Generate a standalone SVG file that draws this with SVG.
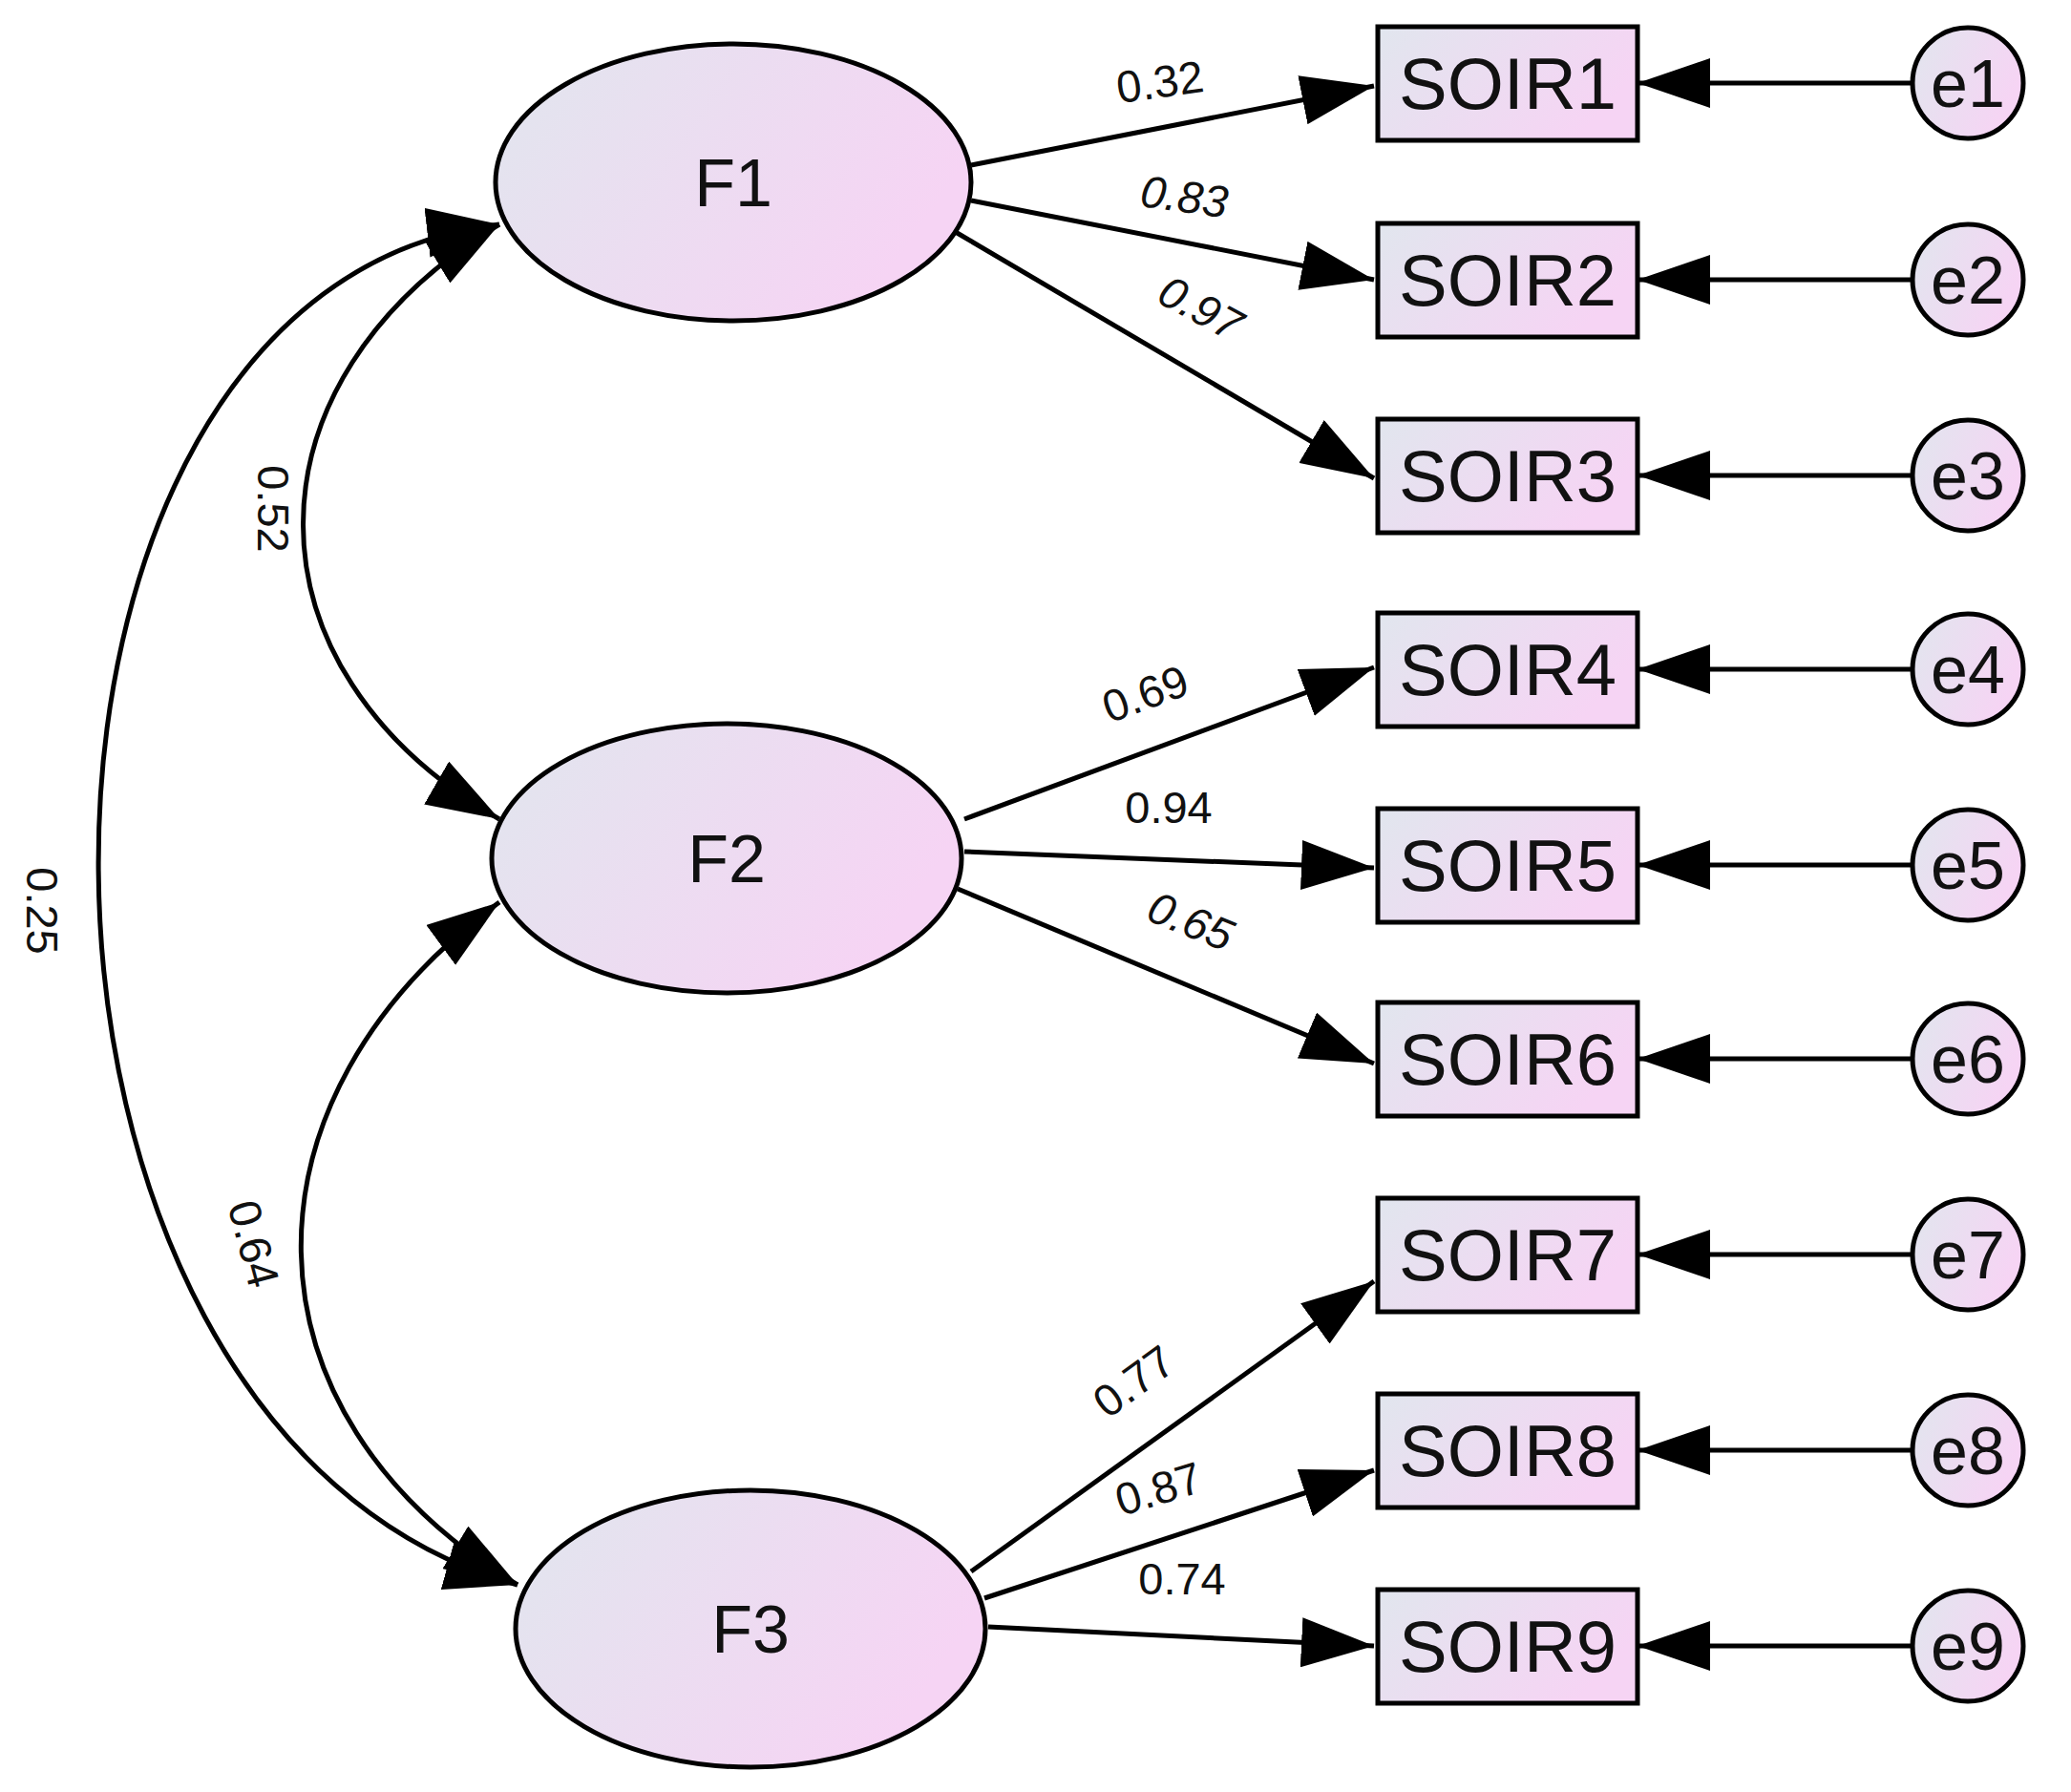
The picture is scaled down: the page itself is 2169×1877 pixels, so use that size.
<svg xmlns="http://www.w3.org/2000/svg" width="2169" height="1877" viewBox="0 0 2169 1877">
<style>
.n{stroke:#000;stroke-width:5;fill:url(#g)}
.c path{fill:none;stroke:#000;stroke-width:5}
.t{font-family:"Liberation Sans",Arial,sans-serif;fill:#111}
.big{font-size:70px}
.box{font-size:76px}
.lab{font-size:47px}
</style>
<defs>
<linearGradient id="g" x1="0" y1="0" x2="1" y2="0.4">
<stop offset="0" stop-color="#e1e6ee"/><stop offset="1" stop-color="#f6d4f4"/>
</linearGradient>
<marker id="a" viewBox="0 0 76 52" refX="76" refY="26" markerWidth="76" markerHeight="52" markerUnits="userSpaceOnUse" orient="auto-start-reverse">
<path d="M0,0 L76,26 L0,52 Z" fill="#000"/>
</marker>
</defs>
<rect width="2169" height="1877" fill="#fff"/>
<g class="c" id="connectors">
<path d="M1017,173 L1439,90" marker-end="url(#a)"/>
<path d="M1017,210 L1439,293" marker-end="url(#a)"/>
<path d="M999,242 L1439,501" marker-end="url(#a)"/>
<path d="M1010,858 L1439,699" marker-end="url(#a)"/>
<path d="M1010,892 L1439,909" marker-end="url(#a)"/>
<path d="M1003,931 L1439,1114" marker-end="url(#a)"/>
<path d="M1017,1646 L1439,1342" marker-end="url(#a)"/>
<path d="M1031,1674 L1439,1540" marker-end="url(#a)"/>
<path d="M1035,1704 L1439,1724" marker-end="url(#a)"/>
<path d="M2003,87 L1715,87" marker-end="url(#a)"/>
<path d="M2003,293 L1715,293" marker-end="url(#a)"/>
<path d="M2003,498 L1715,498" marker-end="url(#a)"/>
<path d="M2003,701 L1715,701" marker-end="url(#a)"/>
<path d="M2003,906 L1715,906" marker-end="url(#a)"/>
<path d="M2003,1109 L1715,1109" marker-end="url(#a)"/>
<path d="M2003,1314 L1715,1314" marker-end="url(#a)"/>
<path d="M2003,1519 L1715,1519" marker-end="url(#a)"/>
<path d="M2003,1724 L1715,1724" marker-end="url(#a)"/>
<path d="M523,235 C249,400 249,700 523,858" marker-start="url(#a)" marker-end="url(#a)"/>
<path d="M523,945 C243,1150 243,1480 542,1660" marker-start="url(#a)" marker-end="url(#a)"/>
<path d="M523,235 C-40,300 -40,1500 542,1660" marker-start="url(#a)" marker-end="url(#a)"/>
</g>
<g class="t lab">
<text transform="translate(1217,102) rotate(-8)" text-anchor="middle">0.32</text>
<text transform="translate(1238,222) rotate(8)" text-anchor="middle" font-style="italic">0.83</text>
<text transform="translate(1250,337) rotate(28)" text-anchor="middle" font-style="italic">0.97</text>
<text transform="translate(1205,742) rotate(-20)" text-anchor="middle">0.69</text>
<text transform="translate(1224,862)" text-anchor="middle">0.94</text>
<text transform="translate(1241,980) rotate(22)" text-anchor="middle" font-style="italic">0.65</text>
<text transform="translate(1197,1460) rotate(-36)" text-anchor="middle">0.77</text>
<text transform="translate(1218,1575) rotate(-17)" text-anchor="middle">0.87</text>
<text transform="translate(1238,1670)" text-anchor="middle">0.74</text>
<text transform="translate(270,533) rotate(90)" text-anchor="middle">0.52</text>
<text transform="translate(250,1307) rotate(75)" text-anchor="middle">0.64</text>
<text transform="translate(28,954) rotate(90)" text-anchor="middle">0.25</text>
</g>
<g id="F1"><ellipse class="n" cx="768" cy="191" rx="249" ry="145"/><text class="t big" x="768" y="216" text-anchor="middle">F1</text></g>
<g id="F2"><ellipse class="n" cx="761" cy="899" rx="246" ry="141"/><text class="t big" x="761" y="924" text-anchor="middle">F2</text></g>
<g id="F3"><ellipse class="n" cx="786" cy="1706" rx="246" ry="145"/><text class="t big" x="786" y="1731" text-anchor="middle">F3</text></g>
<g id="SOIR1"><rect class="n" x="1443" y="28" width="272" height="119"/><text class="t box" x="1579" y="114" text-anchor="middle">SOIR1</text></g>
<g id="SOIR2"><rect class="n" x="1443" y="234" width="272" height="119"/><text class="t box" x="1579" y="320" text-anchor="middle">SOIR2</text></g>
<g id="SOIR3"><rect class="n" x="1443" y="439" width="272" height="119"/><text class="t box" x="1579" y="525" text-anchor="middle">SOIR3</text></g>
<g id="SOIR4"><rect class="n" x="1443" y="642" width="272" height="119"/><text class="t box" x="1579" y="728" text-anchor="middle">SOIR4</text></g>
<g id="SOIR5"><rect class="n" x="1443" y="847" width="272" height="119"/><text class="t box" x="1579" y="933" text-anchor="middle">SOIR5</text></g>
<g id="SOIR6"><rect class="n" x="1443" y="1050" width="272" height="119"/><text class="t box" x="1579" y="1136" text-anchor="middle">SOIR6</text></g>
<g id="SOIR7"><rect class="n" x="1443" y="1255" width="272" height="119"/><text class="t box" x="1579" y="1341" text-anchor="middle">SOIR7</text></g>
<g id="SOIR8"><rect class="n" x="1443" y="1460" width="272" height="119"/><text class="t box" x="1579" y="1546" text-anchor="middle">SOIR8</text></g>
<g id="SOIR9"><rect class="n" x="1443" y="1665" width="272" height="119"/><text class="t box" x="1579" y="1751" text-anchor="middle">SOIR9</text></g>
<g id="e1"><circle class="n" cx="2061" cy="87" r="58"/><text class="t big" x="2061" y="112" text-anchor="middle">e1</text></g>
<g id="e2"><circle class="n" cx="2061" cy="293" r="58"/><text class="t big" x="2061" y="318" text-anchor="middle">e2</text></g>
<g id="e3"><circle class="n" cx="2061" cy="498" r="58"/><text class="t big" x="2061" y="523" text-anchor="middle">e3</text></g>
<g id="e4"><circle class="n" cx="2061" cy="701" r="58"/><text class="t big" x="2061" y="726" text-anchor="middle">e4</text></g>
<g id="e5"><circle class="n" cx="2061" cy="906" r="58"/><text class="t big" x="2061" y="931" text-anchor="middle">e5</text></g>
<g id="e6"><circle class="n" cx="2061" cy="1109" r="58"/><text class="t big" x="2061" y="1134" text-anchor="middle">e6</text></g>
<g id="e7"><circle class="n" cx="2061" cy="1314" r="58"/><text class="t big" x="2061" y="1339" text-anchor="middle">e7</text></g>
<g id="e8"><circle class="n" cx="2061" cy="1519" r="58"/><text class="t big" x="2061" y="1544" text-anchor="middle">e8</text></g>
<g id="e9"><circle class="n" cx="2061" cy="1724" r="58"/><text class="t big" x="2061" y="1749" text-anchor="middle">e9</text></g>
</svg>
